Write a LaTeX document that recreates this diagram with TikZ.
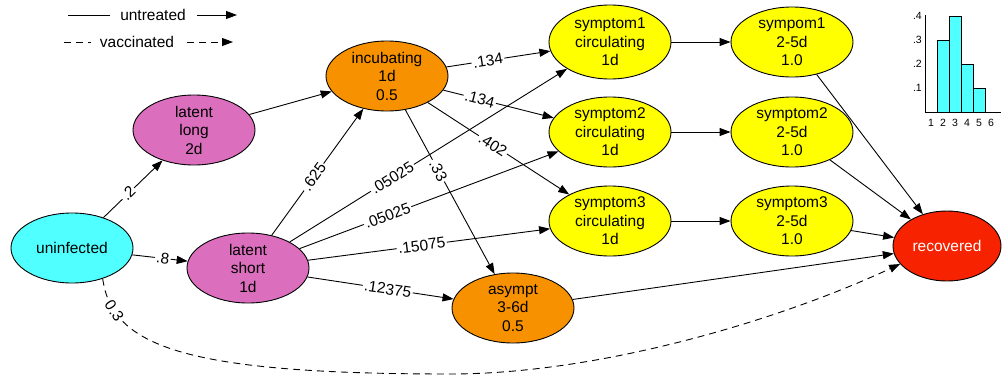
\documentclass[tikz,border=0pt]{standalone}
\usepackage{fontspec}
\setmainfont{Liberation Sans}
\usetikzlibrary{shapes.geometric,arrows.meta}
\definecolor{ccyan}{RGB}{80,255,255}
\definecolor{cmag}{RGB}{220,110,190}
\definecolor{corange}{RGB}{247,145,0}
\definecolor{cyel}{RGB}{255,255,0}
\definecolor{cred}{RGB}{246,34,0}
\begin{document}
\begin{tikzpicture}[x=1pt,y=-1pt,
  every node/.style={font=\fontsize{15.5}{18.5}\selectfont},
  st/.style={ellipse,draw,line width=0.9pt,minimum width=122pt,minimum height=70pt,inner sep=0pt,align=center},
  edge/.style={line width=0.9pt,-{Triangle[length=11pt,width=8pt]}},
  plain/.style={line width=0.9pt},
  lbl/.style={fill=white,inner sep=1.5pt,sloped},
  dsh/.style={dash pattern=on 7pt off 5pt},
  tick/.style={font=\fontsize{10.5}{12}\selectfont,inner sep=0pt}
]
\useasboundingbox (0,0) rectangle (1002,375);

% legend
\coordinate (l1a) at (68,15); \coordinate (l1b) at (110,15);
\node (l1t) at (153,15) {untreated};
\coordinate (l1c) at (197,15); \coordinate (l1d) at (237,15);
\draw[plain] (l1a) -- (l1b);
\draw[edge] (l1c) -- (l1d);
\coordinate (l2a) at (64,42); \coordinate (l2b) at (91,42);
\node (l2t) at (137,42) {vaccinated};
\coordinate (l2c) at (187,42); \coordinate (l2d) at (233,42);
\draw[plain,dsh] (l2a) -- (l2b);
\draw[edge,dsh] (l2c) -- (l2d);

% nodes
\node[st,fill=ccyan] (uninf) at (72,248) {uninfected};
\node[st,fill=cmag] (latlong) at (194,130) {latent\\long\\2d};
\node[st,fill=cmag] (latshort) at (248,268) {latent\\short\\1d};
\node[st,fill=corange] (incub) at (387,76) {incubating\\1d\\0.5};
\node[st,fill=corange] (asympt) at (513,308) {asympt\\3-6d\\0.5};
\node[st,fill=cyel,minimum height=74pt] (s1c) at (610,42) {symptom1\\circulating\\1d};
\node[st,fill=cyel] (s2c) at (610,132) {symptom2\\circulating\\1d};
\node[st,fill=cyel] (s3c) at (610,221) {symptom3\\circulating\\1d};
\node[st,fill=cyel] (s1) at (792,42) {sympom1\\2-5d\\1.0};
\node[st,fill=cyel] (s2) at (792,132) {symptom2\\2-5d\\1.0};
\node[st,fill=cyel] (s3) at (792,221) {symptom3\\2-5d\\1.0};
\node[st,fill=cred,minimum width=108pt,text=white] (recov) at (947,246) {recovered};

% unlabeled edges
\draw[edge] (latlong) -- (incub);
\draw[edge] (s1c) -- (s1);
\draw[edge] (s2c) -- (s2);
\draw[edge] (s3c) -- (s3);
\draw[edge] (s1) -- (recov);
\draw[edge] (s2) -- (recov);
\draw[edge] (s3) -- (recov);
\draw[edge] (asympt) -- (recov);

% labeled edges
\draw[edge] (uninf) -- node[pos=0.42,lbl]{.2} (latlong);
\draw[edge] (uninf) -- node[pos=0.55,lbl]{.8} (latshort);
\draw[edge] (latshort) -- node[pos=0.46,lbl]{.625} (incub);
\draw[edge] (latshort) -- node[pos=0.37,lbl]{.05025} (s1c);
\draw[edge] (latshort) -- node[pos=0.34,lbl]{.05025} (s2c);
\draw[edge] (latshort) -- node[pos=0.47,lbl]{.15075} (s3c);
\draw[edge] (latshort) -- node[pos=0.55,lbl]{.12375} (asympt);
\draw[edge] (incub) -- node[pos=0.40,lbl]{.134} (s1c);
\draw[edge] (incub) -- node[pos=0.33,lbl]{.134} (s2c);
\draw[edge] (incub) -- node[pos=0.46,lbl]{.402} (s3c);
\draw[edge] (incub) -- node[pos=0.37,lbl]{.33} (asympt);
\draw[edge,dsh] (uninf.-45) .. controls (112,345) and (180,374) .. (450,374) node[pos=0.18,lbl]{0.3}
   .. controls (600,374) and (780,320) .. (recov.201);

% histogram
\draw[fill=ccyan,line width=0.9pt] (937,112) rectangle (949,40);
\draw[fill=ccyan,line width=0.9pt] (949,112) rectangle (961,16);
\draw[fill=ccyan,line width=0.9pt] (961,112) rectangle (973,64);
\draw[fill=ccyan,line width=0.9pt] (973,112) rectangle (985,88);
\draw[line width=0.9pt] (925,15) -- (925,112) -- (1001,112);
\node[tick,anchor=east] (y4) at (922,16) {.4};
\node[tick,anchor=east] (y3) at (922,40) {.3};
\node[tick,anchor=east] (y2) at (922,64) {.2};
\node[tick,anchor=east] (y1) at (922,88) {.1};
\foreach \k in {1,...,6} {
  \node[tick] (x\k) at ({931+12*(\k-1)},123) {\k};
}
\end{tikzpicture}
\end{document}
